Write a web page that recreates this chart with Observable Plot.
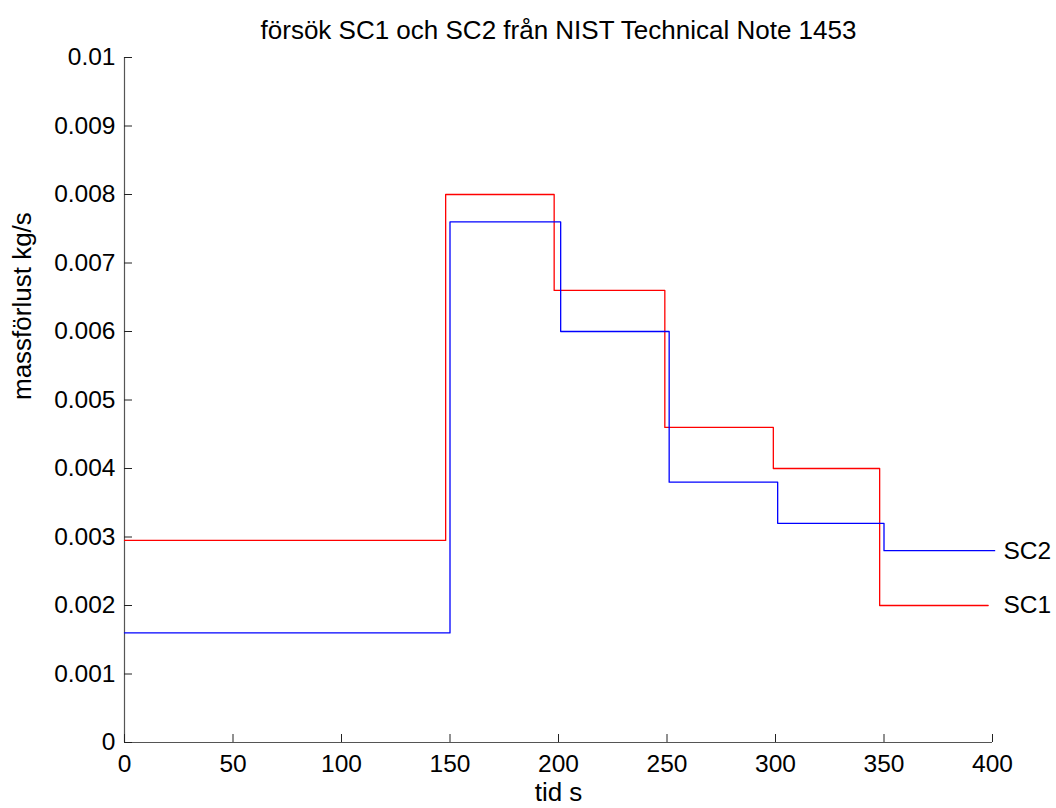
<!DOCTYPE html>
<html><head><meta charset="utf-8">
<script src="https://cdn.jsdelivr.net/npm/d3@7"></script>
<script src="https://cdn.jsdelivr.net/npm/@observablehq/plot@0.6"></script>
<style>body{margin:0;background:#fff} svg{font-family:Arial,"Liberation Sans",sans-serif}</style>
</head><body><div id="chart"></div>
<script>
const title = "försök SC1 och SC2 från NIST Technical Note 1453";
const xLabel = "tid s";
const yLabel = "massförlust kg/s";
const seriesNames = ["SC1", "SC2"];
const seriesColors = ["#ff0000", "#0000ff"];
const sc1Time = [0, 148, 198, 249, 299, 348, 398];
const sc1Rate = [0.00295, 0.008, 0.0066, 0.0046, 0.004, 0.002, 0.002];
const sc2Time = [0, 150, 201, 251, 301, 350, 401];
const sc2Rate = [0.0016, 0.0076, 0.006, 0.0038, 0.0032, 0.0028, 0.0028];
const xTicks = [0, 50, 100, 150, 200, 250, 300, 350, 400];
const yTicks = [0, 0.001, 0.002, 0.003, 0.004, 0.005, 0.006, 0.007, 0.008, 0.009, 0.01];
const yTickLabels = ["0", "0.001", "0.002", "0.003", "0.004", "0.005", "0.006", "0.007", "0.008", "0.009", "0.01"];

const W = 1056, H = 808, mL = 124, mR = 64, mT = 57, mB = 66;
const plotW = W - mL - mR, plotH = H - mT - mB;
const fs = 24.5, fsLabel = 26;

const rows = [];
sc1Time.forEach((t, i) => rows.push({series: seriesNames[0], t, v: sc1Rate[i]}));
sc2Time.forEach((t, i) => rows.push({series: seriesNames[1], t, v: sc2Rate[i]}));
const ends = [
  {series: seriesNames[0], v: sc1Rate[sc1Rate.length - 1]},
  {series: seriesNames[1], v: sc2Rate[sc2Rate.length - 1]}
];

const chart = Plot.plot({
  width: W, height: H,
  marginLeft: mL, marginRight: mR, marginTop: mT, marginBottom: mB,
  style: {fontSize: fs + "px", fontFamily: 'Arial,"Liberation Sans",sans-serif', color: "#000", background: "#fff"},
  x: {domain: [0, 400]},
  y: {domain: [0, 0.01]},
  color: {domain: seriesNames, range: seriesColors},
  marks: [
    Plot.ruleY([0], {stroke: "#555", strokeWidth: 1.2}),
    Plot.ruleX([0], {stroke: "#555", strokeWidth: 1.2}),
    Plot.tickX(xTicks, {x: d => d, insetTop: plotH - 8, stroke: "#222"}),
    Plot.tickY(yTicks, {y: d => d, insetRight: plotW - 8, stroke: "#222"}),
    Plot.axisX({ticks: xTicks, tickSize: 0, tickPadding: 12, fontSize: fs, label: null}),
    Plot.axisY({ticks: yTicks, tickSize: 0, tickPadding: 9, fontSize: fs, label: null,
      tickFormat: d => yTickLabels[yTicks.indexOf(d)]}),
    Plot.line(rows, {x: "t", y: "v", z: "series", stroke: "series", curve: "step-after", strokeWidth: 1.3}),
    Plot.text(ends, {x: () => 400, y: "v", text: "series", dx: 11, textAnchor: "start", fontSize: fs}),
    Plot.text([title], {frameAnchor: "top", lineAnchor: "middle", dy: -27, fontSize: fsLabel}),
    Plot.text([xLabel], {frameAnchor: "bottom", lineAnchor: "middle", dy: 50, fontSize: fsLabel}),
    Plot.text([yLabel], {frameAnchor: "left", lineAnchor: "middle", dx: -102, rotate: -90, fontSize: fsLabel})
  ]
});
document.getElementById("chart").appendChild(chart);
</script>
</body></html>
